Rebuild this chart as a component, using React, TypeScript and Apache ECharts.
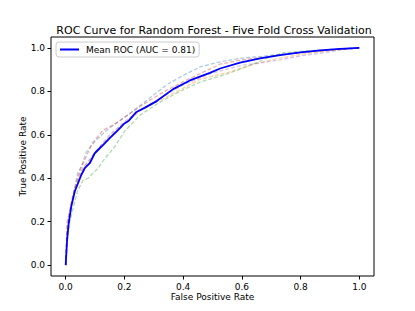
import React, { useEffect, useRef } from "react";
import * as echarts from "echarts";

const titleText = "ROC Curve for Random Forest - Five Fold Cross Validation";
const xTicks = [0, 0.2, 0.4, 0.6, 0.8, 1.0];
const yTicks = [0, 0.2, 0.4, 0.6, 0.8, 1.0];

const meanRoc: [number, number][] = [
  [0, 0], [0.005, 0.12], [0.01, 0.19], [0.019, 0.27], [0.031, 0.34], [0.042, 0.377],
  [0.053, 0.415], [0.065, 0.446], [0.082, 0.469], [0.099, 0.515], [0.122, 0.546],
  [0.15, 0.585], [0.179, 0.623], [0.2, 0.652], [0.215, 0.665], [0.241, 0.705],
  [0.27, 0.725], [0.31, 0.755], [0.366, 0.81], [0.423, 0.85], [0.491, 0.885],
  [0.526, 0.905], [0.594, 0.932], [0.662, 0.952], [0.73, 0.967], [0.799, 0.979],
  [0.867, 0.988], [0.935, 0.995], [1, 1],
];

const fold1: [number, number][] = [
  [0, 0], [0.005, 0.15], [0.02, 0.28], [0.04, 0.42], [0.055, 0.46], [0.07, 0.52],
  [0.1, 0.57], [0.139, 0.62], [0.184, 0.665], [0.23, 0.71], [0.287, 0.77],
  [0.344, 0.83], [0.389, 0.865], [0.457, 0.912], [0.526, 0.936], [0.594, 0.952],
  [0.66, 0.96], [0.73, 0.97], [0.8, 0.978], [0.87, 0.986], [0.935, 0.994], [1, 1],
];
const fold2: [number, number][] = [
  [0, 0], [0.005, 0.18], [0.02, 0.3], [0.05, 0.43], [0.08, 0.48], [0.12, 0.55],
  [0.17, 0.62], [0.2, 0.65], [0.253, 0.71], [0.366, 0.79], [0.457, 0.855],
  [0.56, 0.89], [0.628, 0.92], [0.7, 0.945], [0.8, 0.97], [0.9, 0.988], [1, 1],
];
const fold3: [number, number][] = [
  [0, 0], [0.005, 0.1], [0.014, 0.2], [0.025, 0.26], [0.04, 0.34], [0.059, 0.39],
  [0.076, 0.4], [0.11, 0.446], [0.133, 0.49], [0.167, 0.545], [0.2, 0.615],
  [0.253, 0.69], [0.321, 0.75], [0.389, 0.8], [0.457, 0.842], [0.526, 0.87],
  [0.56, 0.885], [0.628, 0.92], [0.7, 0.96], [0.742, 0.978], [0.8, 0.984],
  [0.9, 0.993], [1, 1],
];
const fold4: [number, number][] = [
  [0, 0], [0.005, 0.2], [0.014, 0.25], [0.03, 0.35], [0.05, 0.44], [0.07, 0.5],
  [0.09, 0.56], [0.127, 0.62], [0.18, 0.66], [0.253, 0.73], [0.3, 0.77],
  [0.344, 0.805], [0.412, 0.852], [0.526, 0.925], [0.6, 0.945], [0.7, 0.962],
  [0.8, 0.978], [0.9, 0.99], [1, 1],
];
const fold5: [number, number][] = [
  [0, 0], [0.005, 0.15], [0.02, 0.28], [0.04, 0.38], [0.06, 0.45], [0.1, 0.52],
  [0.15, 0.6], [0.2, 0.66], [0.25, 0.71], [0.3, 0.75], [0.4, 0.83], [0.5, 0.885],
  [0.6, 0.92], [0.662, 0.93], [0.73, 0.945], [0.8, 0.963], [0.867, 0.975],
  [0.935, 0.99], [1, 1],
];

const folds = [fold1, fold2, fold3, fold4, fold5];
const foldNames = ["Fold 1", "Fold 2", "Fold 3", "Fold 4", "Fold 5"];
const foldColors = ["#1f77b4", "#ff7f0e", "#2ca02c", "#d62728", "#9467bd"];

const FONT = "DejaVu Sans";

export default function App() {
  const ref = useRef<HTMLDivElement>(null);
  useEffect(() => {
    document.body.style.margin = "0";
    if (!ref.current) return;
    const chart = echarts.init(ref.current, null, { renderer: "svg" });
    const foldSeries = folds.map((d, i) => ({
      name: foldNames[i],
      type: "line",
      data: d,
      showSymbol: false,
      symbol: "none",
      lineStyle: { color: foldColors[i], width: 1.3, type: [4, 2], opacity: 0.38 },
      itemStyle: { color: foldColors[i] },
      z: 2,
    }));
    const fmt = (v: number) => v.toFixed(1);
    chart.setOption({
      animation: false,
      backgroundColor: "#ffffff",
      title: {
        text: titleText,
        left: 209,
        top: 20,
        textAlign: "center",
        textStyle: { fontFamily: FONT, fontSize: 11, fontWeight: "normal", color: "#000" },
      },
      legend: {
        data: ["Mean ROC (AUC = 0.81)"],
        left: 56,
        top: 42,
        padding: [3, 4, 3, 4],
        itemWidth: 19,
        itemHeight: 2,
        icon: "rect",
        borderColor: "#cccccc",
        borderWidth: 1,
        borderRadius: 3,
        backgroundColor: "rgba(255,255,255,0.8)",
        textStyle: { fontFamily: FONT, fontSize: 9, color: "#000", padding: [0, 0, 0, 2] },
      },
      grid: {
        left: 51,
        right: 41,
        top: 37,
        bottom: 35,
        show: true,
        borderColor: "#000",
        borderWidth: 1,
        backgroundColor: "transparent",
      },
      xAxis: {
        type: "value",
        min: -0.05,
        max: 1.05,
        name: "False Positive Rate",
        nameLocation: "middle",
        nameGap: 16,
        nameMoveOverlap: false,
        nameTextStyle: { fontFamily: FONT, fontSize: 9, color: "#000" },
        axisLine: { show: false, onZero: false },
        splitLine: { show: false },
        axisTick: { show: true, length: 3.5, customValues: xTicks, lineStyle: { color: "#000" } },
        axisLabel: {
          customValues: xTicks,
          formatter: fmt,
          fontFamily: FONT,
          fontSize: 9,
          color: "#000",
          margin: 6,
        },
      },
      yAxis: {
        type: "value",
        min: -0.05,
        max: 1.05,
        name: "True Positive Rate",
        nameLocation: "middle",
        nameGap: 24,
        nameMoveOverlap: false,
        nameTextStyle: { fontFamily: FONT, fontSize: 9, color: "#000" },
        axisLine: { show: false, onZero: false },
        splitLine: { show: false },
        axisTick: { show: true, length: 3.5, customValues: yTicks, lineStyle: { color: "#000" } },
        axisLabel: {
          customValues: yTicks,
          formatter: fmt,
          fontFamily: FONT,
          fontSize: 9,
          color: "#000",
          margin: 6,
        },
      },
      series: [
        ...foldSeries,
        {
          name: "Mean ROC (AUC = 0.81)",
          type: "line",
          data: meanRoc,
          showSymbol: false,
          symbol: "none",
          lineStyle: { color: "#0000ff", width: 1.8 },
          itemStyle: { color: "#0000ff" },
          z: 3,
        },
      ],
    });
    return () => chart.dispose();
  }, []);
  return <div ref={ref} style={{ width: 415, height: 311 }} />;
}
